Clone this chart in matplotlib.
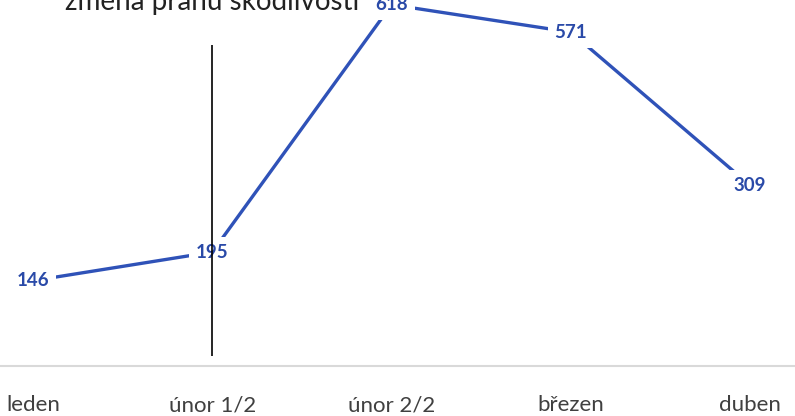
import matplotlib.pyplot as plt

mesice = ['leden', 'únor 1/2', 'únor 2/2', 'březen', 'duben']
hodnoty = [146, 195, 618, 571, 309]
titulek = 'změna prahu škodlivosti'

plt.rcParams['font.family'] = ['Lato', 'DejaVu Sans']

fig = plt.figure(figsize=(7.95, 4.16), dpi=100)
ax = fig.add_axes([0, 0.12, 1, 0.88])

x = list(range(len(mesice)))
ax.plot(x, hodnoty, color='#2f52b8', lw=2.4, zorder=2)

for xi, v in zip(x, hodnoty):
    ax.text(xi, v, str(v), ha='center', va='center', fontsize=13.5, fontweight='bold',
            color='#2a4aa8', zorder=3,
            bbox=dict(facecolor='white', edgecolor='none', pad=5))

# svisla cara - zmena prahu
ax.vlines(1, 17, 549, color='black', lw=1.2, zorder=4)

ax.set_xlim(-0.184, 4.25)
ax.set_ylim(0, 626)
ax.set_yticks([])
ax.set_xticks(x)
ax.set_xticklabels(mesice, fontsize=16, color='#404040')
ax.tick_params(axis='x', length=0, pad=21)
for s in ['top', 'left', 'right']:
    ax.spines[s].set_visible(False)
ax.spines['bottom'].set_color('#d9d9d9')
ax.spines['bottom'].set_linewidth(1.5)

fig.text(212 / 795, 1 - 10 / 416, titulek, ha='center', va='baseline', fontsize=20, color='#222222')

fig.savefig('out.png', dpi=100)
